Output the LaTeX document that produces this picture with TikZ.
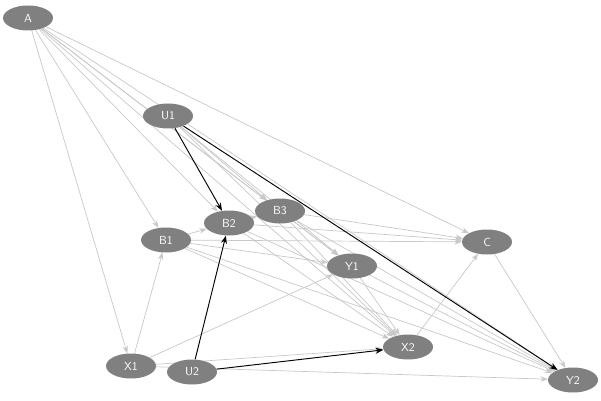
\documentclass[tikz,border=0pt]{standalone}
\usepackage{tikz}
\usepackage{xcolor}
\usetikzlibrary{arrows.meta, shapes.geometric, backgrounds}
\definecolor{nodegray}{RGB}{128, 128, 128}
\definecolor{edgegray}{RGB}{200, 200, 200}
\tikzset{
    varnode/.style={ellipse, fill=nodegray, text=white, minimum width=1.5cm, minimum height=0.75cm, inner sep=0pt, font=\sffamily},
    weak/.style={draw=edgegray, semithick, -{Stealth[length=2.2mm]}},
    strong/.style={draw=black, thick, -{Stealth[length=2.4mm]}}
}

\begin{document}
\begin{tikzpicture}[x=0.03cm, y=-0.03cm]
                    \useasboundingbox (0,0) rectangle (601,401);
                    \node[varnode] (A) at (28,18) {A};
                    \node[varnode] (U1) at (168,116) {U1};
                    \node[varnode] (B1) at (166,240) {B1};
                    \node[varnode] (B2) at (229,223) {B2};
                    \node[varnode] (B3) at (280,211) {B3};
                    \node[varnode] (Y1) at (352,266) {Y1};
                    \node[varnode] (C) at (487,242) {C};
                    \node[varnode] (X1) at (131,366) {X1};
                    \node[varnode] (U2) at (192,372) {U2};
                    \node[varnode] (X2) at (408,347) {X2};
                    \node[varnode] (Y2) at (573,380) {Y2};
                    
                    \begin{scope}[on background layer]
                    \foreach \s/\t in {A/B1, A/X1, A/B2, A/B3, A/C, A/X2, A/Y2, A/Y1,
                                       U1/B3, U1/X2, U1/Y1,
                                       X1/B1, X1/Y1, X1/X2, X1/Y2,
                                       B1/B2, B1/C, B1/Y1, B1/X2, B1/Y2,
                                       B2/B3, B2/C, B2/X2, B2/Y2,
                                       B3/Y1, B3/X2, B3/Y2, B3/C,
                                       Y1/X2, Y1/Y2, X2/C, C/Y2}
                        \draw[weak] (\s) -- (\t);
                    
                    \draw[strong] (U1) -- (B2);
                    \draw[strong] (U1) -- (Y2);
                    \draw[strong] (U2) -- (B2);
                    \draw[strong] (U2) -- (X2);
                    \end{scope}
                \end{tikzpicture}
\end{document}
